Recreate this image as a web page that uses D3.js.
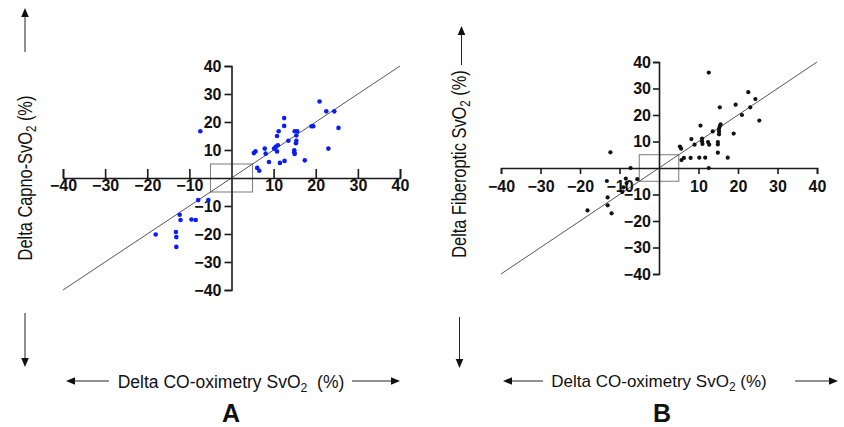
<!DOCTYPE html>
<html>
<head>
<meta charset="utf-8">
<script src="https://cdn.jsdelivr.net/npm/d3@7"></script>
<style>
  body { margin: 0; background: #fff; }
  text { font-family: "Liberation Sans", Arial, sans-serif; }
</style>
</head>
<body>
<div id="chart"></div>
<script>
// Tick values shared by both panels (0 is not labelled)
var tickValues = [-40, -30, -20, -10, 10, 20, 30, 40];

// Panel A: delta CO-oximetry vs delta Capno-SvO2
var capnoX = [20.9, 22.5, 24.4, 25.4, 23.0, 19.0, 19.4, 17.4, 12.5, 12.5, 11.2, 10.8, 13.5, 15.0, 15.6,
  15.4, 15.4, 15.3, 14.9, 14.9, 15.0, 11.0, 10.5, 10.1, 10.8, 7.9, 8.1, 5.7, 5.3, 8.9, 11.5, 12.6, 6.1, 6.6,
  -7.4, -7.9, -5.5, -12.3, -12.1, -9.5, -8.5, -13.2, -13.1, -13.1, -18.0];
var capnoY = [27.3, 23.8, 23.8, 17.9, 10.5, 18.5, 18.5, 6.3, 21.4, 18.6, 16.7, 15.0, 13.3, 16.7, 16.7,
  15.2, 13.3, 12.4, 9.9, 9.2, 8.6, 11.7, 11.1, 10.5, 9.5, 10.5, 8.7, 9.5, 8.9, 5.7, 5.4, 6.1, 3.6, 2.6,
  16.7, -7.9, -7.9, -13.1, -15.0, -14.8, -15.0, -19.3, -21.1, -24.6, -20.2];

// Panel B: delta CO-oximetry vs delta Fiberoptic SvO2
var fiberX = [12.6, 22.6, 24.4, 23.1, 25.4, 19.4, 21.0, 18.9, 17.4, 15.4, 15.6, 15.4, 15.2, 15.2, 15.2,
  13.6, 14.9, 14.9, 14.9, 10.5, 10.9, 10.9, 11.0, 12.4, 12.7, 9.0, 8.2, 5.3, 5.6, 6.3, 5.7, 8.0, 10.2, 11.7,
  12.6, -12.3, -7.2, -5.5, -13.2, -8.4, -8.2, -9.0, -9.3, -13.0, -13.0, -12.0, -18.1];
var fiberY = [36.0, 28.6, 26.0, 22.9, 17.9, 23.9, 20.0, 13.0, 3.9, 22.9, 16.5, 15.8, 14.8, 13.8, 12.7,
  13.8, 9.8, 8.9, 5.8, 16.0, 11.1, 10.1, 9.1, 9.8, 8.8, 8.8, 10.9, 8.1, 7.3, 3.8, 3.0, 3.8, 3.9, 3.9,
  0.0, 5.9, 0.0, -4.2, -4.9, -4.0, -5.7, -7.3, -9.1, -11.1, -14.1, -17.1, -16.0];

var svgWidth = 844;
var svgHeight = 427;

var svg = d3.select("#chart")
  .append("svg")
  .attr("width", svgWidth)
  .attr("height", svgHeight);

// Filled arrow: line from (x1,y1) toward tip (x2,y2)
function arrow(x1, y1, x2, y2) {
  var ang = Math.atan2(y2 - y1, x2 - x1);
  var len = 9, half = 3.8;
  var bx = x2 - len * Math.cos(ang), by = y2 - len * Math.sin(ang);
  svg.append("line")
    .attr("x1", x1).attr("y1", y1).attr("x2", bx).attr("y2", by)
    .attr("stroke", "#222").attr("stroke-width", 1);
  svg.append("path")
    .attr("d", `M${x2},${y2}L${bx - half * Math.sin(ang)},${by + half * Math.cos(ang)}L${bx + half * Math.sin(ang)},${by - half * Math.cos(ang)}Z`)
    .attr("fill", "#111");
}

// Label "<before>SvO2<after>" with subscript 2
function svoLabel(g, before, after) {
  var t = g.append("text").attr("fill", "#111");
  t.append("tspan").text(before + "SvO");
  t.append("tspan").attr("font-size", "0.7em").attr("dy", "0.3em").text("2");
  t.append("tspan").attr("dy", "-0.21em").text(after);
  return t;
}

function drawPanel(p) {
  var x = d3.scaleLinear().domain([-40, 40]).range(p.xRange);
  var y = d3.scaleLinear().domain([-40, 40]).range(p.yRange);
  var g = svg.append("g");

  // Small +/-5 square around the origin
  g.append("rect")
    .attr("x", x(-5)).attr("y", y(5))
    .attr("width", x(5) - x(-5)).attr("height", y(-5) - y(5))
    .attr("fill", "none").attr("stroke", "#7a7a7a").attr("stroke-width", 1);

  // Line of identity
  g.append("line")
    .attr("x1", x(-40)).attr("y1", y(-40)).attr("x2", x(40)).attr("y2", y(40))
    .attr("stroke", "#444").attr("stroke-width", 0.9);

  // Axes crossing at the origin
  var xAxis = d3.axisBottom(x).tickValues(tickValues).tickSizeOuter(0)
    .tickSize(p.xTick).tickPadding(p.xPad).tickFormat(d3.format("d"));
  var yAxis = d3.axisLeft(y).tickValues(tickValues).tickSizeOuter(0)
    .tickSize(p.yTick).tickPadding(p.yPad).tickFormat(d3.format("d"));

  [g.append("g").attr("transform", `translate(0,${y(0)})`).call(xAxis),
   g.append("g").attr("transform", `translate(${x(0)},0)`).call(yAxis)].forEach(a => {
    a.select(".domain").attr("stroke", "#1a1a1a").attr("stroke-width", 1.6);
    a.selectAll(".tick line").attr("stroke", "#1a1a1a").attr("stroke-width", 1.6);
    a.selectAll(".tick text")
      .attr("fill", "#111")
      .style("font-family", "'Liberation Sans', Arial, sans-serif")
      .style("font-size", "16px")
      .style("font-weight", "bold");
  });

  // Points
  g.selectAll("circle.pt")
    .data(d3.zip(p.xs, p.ys))
    .join("circle")
    .attr("class", "pt")
    .attr("cx", d => x(d[0]))
    .attr("cy", d => y(d[1]))
    .attr("r", p.r)
    .attr("fill", p.color);

  // Rotated y label, compressed along the text direction
  var yl = svg.append("g")
    .attr("transform", `translate(${p.yLabel[0]},${p.yLabel[1]}) rotate(-90) scale(0.82,1)`)
    .style("font-size", "20px");
  svoLabel(yl, p.yText, " (%)").attr("text-anchor", "middle");

  // Horizontal x label
  var xl = svg.append("g")
    .attr("transform", `translate(${p.xLabel[0]},${p.xLabel[1]})`)
    .style("font-size", p.xFont);
  svoLabel(xl, "Delta CO-oximetry ", p.xAfter).attr("text-anchor", "middle");

  // Panel letter
  svg.append("text")
    .attr("x", p.letterX).attr("y", 422)
    .attr("text-anchor", "middle")
    .style("font-size", "25px").style("font-weight", "bold")
    .attr("fill", "#111")
    .text(p.letter);

  p.arrows.forEach(a => arrow(a[0], a[1], a[2], a[3]));
}

drawPanel({
  xRange: [63, 400], yRange: [290, 66],
  xTick: -9, xPad: 2, yTick: 7, yPad: 3,
  xs: capnoX, ys: capnoY, r: 2.3, color: "#0a1ef2",
  yText: "Delta Capno-", yLabel: [32, 178],
  xLabel: [231, 388], xFont: "17.5px", xAfter: "\u00a0 (%)",
  letter: "A", letterX: 231,
  arrows: [[25, 52, 25, 8], [25, 313, 25, 367], [109, 381, 66, 381], [352, 381, 400, 381]]
});

drawPanel({
  xRange: [501, 817], yRange: [274, 62],
  xTick: 6, xPad: 7, yTick: 6, yPad: 2,
  xs: fiberX, ys: fiberY, r: 2.1, color: "#111",
  yText: "Delta Fiberoptic ", yLabel: [466, 164],
  xLabel: [659, 387], xFont: "17px", xAfter: " (%)",
  letter: "B", letterX: 662,
  arrows: [[461.5, 65, 461.5, 26], [459.5, 317, 459.5, 368], [543, 381, 503, 381], [795, 381, 838, 381]]
});
</script>
</body>
</html>
